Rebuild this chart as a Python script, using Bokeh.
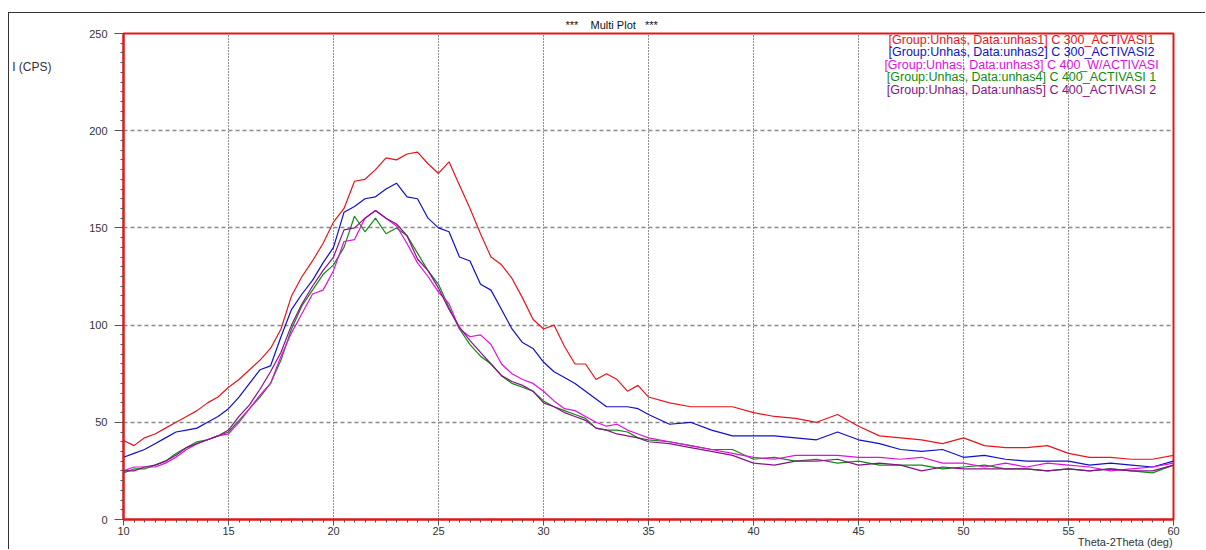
from bokeh.plotting import figure
from bokeh.models import Label, LinearAxis, FixedTicker, Range1d
from bokeh.embed import file_html
from bokeh.resources import INLINE

# 2-theta positions (deg)
theta = [10, 10.5, 11, 11.5, 12, 12.5, 13, 13.5, 14, 14.5, 15, 15.5, 16, 16.5, 17, 17.5,
         18, 18.5, 19, 19.5, 20, 20.5, 21, 21.5, 22, 22.5, 23, 23.5, 24, 24.5, 25, 25.5,
         26, 26.5, 27, 27.5, 28, 28.5, 29, 29.5, 30, 30.5, 31, 31.5, 32, 32.5, 33, 33.5,
         34, 34.5, 35, 36, 37, 38, 39, 40, 41, 42, 43, 44, 45, 46, 47, 48, 49, 50, 51, 52,
         53, 54, 55, 56, 57, 58, 59, 60]

unhas1 = [40.6, 38, 42, 44, 47, 50, 53, 56, 60, 63, 68, 72, 77, 82, 88, 98,
          115, 125, 133, 142, 153, 160, 174, 175, 180, 186, 185, 188, 189, 183, 178, 184,
          172, 160, 147, 135, 131, 124, 114, 103, 98, 100, 89, 80, 80, 72, 75, 72,
          66, 69, 63, 60, 58, 58, 58, 55, 53, 52, 50, 54, 48, 43, 42, 41, 39, 42, 38, 37,
          37, 38, 34, 32, 32, 31, 31, 33]
unhas2 = [32, 34, 36, 39, 42, 45, 46, 47, 50, 53, 57, 63, 70, 77, 79, 94,
          108, 116, 123, 132, 140, 158, 161, 165, 166, 170, 173, 166, 165, 155, 150, 148,
          135, 133, 121, 118, 108, 98, 91, 88, 81, 76, 73, 70, 66, 62, 58, 58,
          58, 57, 54, 49, 50, 46, 43, 43, 43, 42, 41, 45, 41, 39, 36, 35, 36, 32, 33, 31,
          30, 30, 30, 28, 29, 28, 27, 30]
unhas3 = [25, 27, 27, 27, 29, 32, 36, 39, 41, 43, 44, 50, 57, 64, 70, 84,
          96, 106, 116, 118, 128, 143, 144, 155, 159, 155, 151, 142, 132, 125, 117, 111,
          98, 94, 95, 90, 80, 75, 72, 70, 66, 61, 57, 56, 53, 50, 48, 49,
          46, 44, 42, 40, 38, 36, 34, 32, 31, 33, 33, 33, 32, 32, 31, 32, 29, 29, 27, 29,
          27, 29, 28, 27, 25, 26, 27, 29]
unhas4 = [24, 26, 26, 28, 30, 34, 37, 40, 41, 43, 45, 51, 57, 63, 70, 82,
          98, 110, 118, 126, 131, 140, 156, 148, 155, 147, 150, 146, 137, 128, 121, 109,
          98, 90, 84, 80, 74, 70, 68, 66, 61, 58, 56, 54, 52, 47, 46, 46,
          45, 42, 41, 40, 38, 36, 36, 31, 32, 30, 31, 29, 30, 28, 28, 28, 26, 27, 28, 26,
          26, 25, 26, 25, 26, 25, 24, 28]
unhas5 = [25, 25, 27, 28, 30, 33, 37, 39, 41, 43, 46, 53, 59, 67, 76, 86,
          100, 111, 120, 128, 135, 149, 150, 155, 159, 155, 152, 146, 134, 128, 119, 108,
          99, 92, 86, 80, 74, 71, 69, 66, 60, 58, 55, 53, 51, 47, 46, 44,
          43, 42, 40, 39, 37, 35, 33, 29, 28, 30, 30, 31, 28, 29, 28, 25, 27, 26, 26, 26,
          26, 25, 26, 25, 26, 25, 25, 28]

series_names = ["[Group:Unhas, Data:unhas1] C 300_ACTIVASI1",
                "[Group:Unhas, Data:unhas2] C 300_ACTIVASI2",
                "[Group:Unhas, Data:unhas3] C 400_W/ACTIVASI",
                "[Group:Unhas, Data:unhas4] C 400_ACTIVASI 1",
                "[Group:Unhas, Data:unhas5] C 400_ACTIVASI 2"]
series_colors = ["#e8151b", "#1010c8", "#e010e0", "#108a10", "#8a108a"]

x_ticks = [10, 15, 20, 25, 30, 35, 40, 45, 50, 55, 60]
y_ticks = [0, 50, 100, 150, 200, 250]

FONT = "Liberation Sans"
NB = "\u00a0"

# canvas starts at page (9, 13) because of margin + 1px window border
p = figure(width=1197, height=537, output_backend="svg", toolbar_location=None,
           x_range=Range1d(10, 60), y_range=Range1d(0, 250),
           min_border_left=114, min_border_right=33, min_border_top=20, min_border_bottom=31,
           title="***" + NB * 4 + "Multi Plot" + NB * 3 + "***")
p.margin = (12, 0, 0, 8)
p.styles = {"border-top": "1px solid #333333", "border-left": "1px solid #333333"}
p.background_fill_color = "white"
p.border_fill_color = "white"
p.outline_line_color = "#e01818"
p.outline_line_width = 2

p.title.align = "left"
p.title.offset = 442
p.title.standoff = 2
p.title.padding = 0
p.title.vertical_align = "top"
p.title.text_font = FONT
p.title.text_font_size = "11px"
p.title.text_font_style = "normal"
p.title.text_color = "#111111"

# series
for ys, c in zip([unhas1, unhas2, unhas4, unhas3, unhas5],
                 [series_colors[0], series_colors[1], series_colors[3], series_colors[2], series_colors[4]]):
    p.line(theta, ys, line_color=c, line_width=1.2)

# axes
for ax in (p.xaxis[0], p.yaxis[0]):
    ax.axis_line_color = "#e01818"
    ax.axis_line_width = 2
    ax.major_tick_line_color = "#555555"
    ax.minor_tick_line_color = "#555555"
    ax.major_label_text_font = FONT
    ax.major_label_text_font_size = "11px"
    ax.major_label_text_color = "#333333"
    ax.major_tick_in = 0
    ax.minor_tick_in = 0
p.xaxis[0].ticker = FixedTicker(ticks=x_ticks, minor_ticks=[10 + 0.5 * i for i in range(101)])
p.yaxis[0].ticker = FixedTicker(ticks=y_ticks, minor_ticks=[5 * i for i in range(51)])
p.xaxis[0].major_tick_out = 6
p.xaxis[0].minor_tick_out = 3
p.yaxis[0].major_tick_out = 9
p.yaxis[0].minor_tick_out = 3
p.xaxis[0].major_label_standoff = 1
p.yaxis[0].major_label_standoff = 7

# x-axis title ending at the right end of the axis (padded so the centred text sits right)
p.xaxis[0].axis_label = NB * 312 + "Theta-2Theta (deg)"
p.xaxis[0].axis_label_standoff = -2
p.xaxis[0].axis_label_text_font = FONT
p.xaxis[0].axis_label_text_font_size = "11px"
p.xaxis[0].axis_label_text_font_style = "normal"
p.xaxis[0].axis_label_text_color = "#333333"

# y-axis title near the top, horizontal (shown as a lone tick label)
yt = LinearAxis(ticker=FixedTicker(ticks=[233]), major_label_overrides={233: "I (CPS)"},
                axis_line_color=None, major_tick_line_color=None, minor_tick_line_color=None,
                major_tick_out=0, major_label_standoff=35,
                major_label_text_font=FONT, major_label_text_font_size="12px",
                major_label_text_color="#333333")
p.add_layout(yt, "left")

# grids
p.xgrid[0].grid_line_color = "#222222"
p.xgrid[0].grid_line_dash = "1 2"
p.xgrid[0].grid_line_width = 1
p.ygrid[0].grid_line_color = "#8a8a8a"
p.ygrid[0].grid_line_dash = "4 3"
p.ygrid[0].grid_line_width = 1.6

# legend texts (canvas pixels)
leg_py = [25, 37.5, 50, 62.5, 75]
for name, c, yy in zip(series_names, series_colors, leg_py):
    p.add_layout(Label(x=1011, y=yy, x_units="canvas", y_units="canvas", text=name,
                       text_align="center", text_baseline="middle", text_font=FONT,
                       text_font_size="12.5px", text_color=c))

open("out.html", "w").write(file_html(p, INLINE))
